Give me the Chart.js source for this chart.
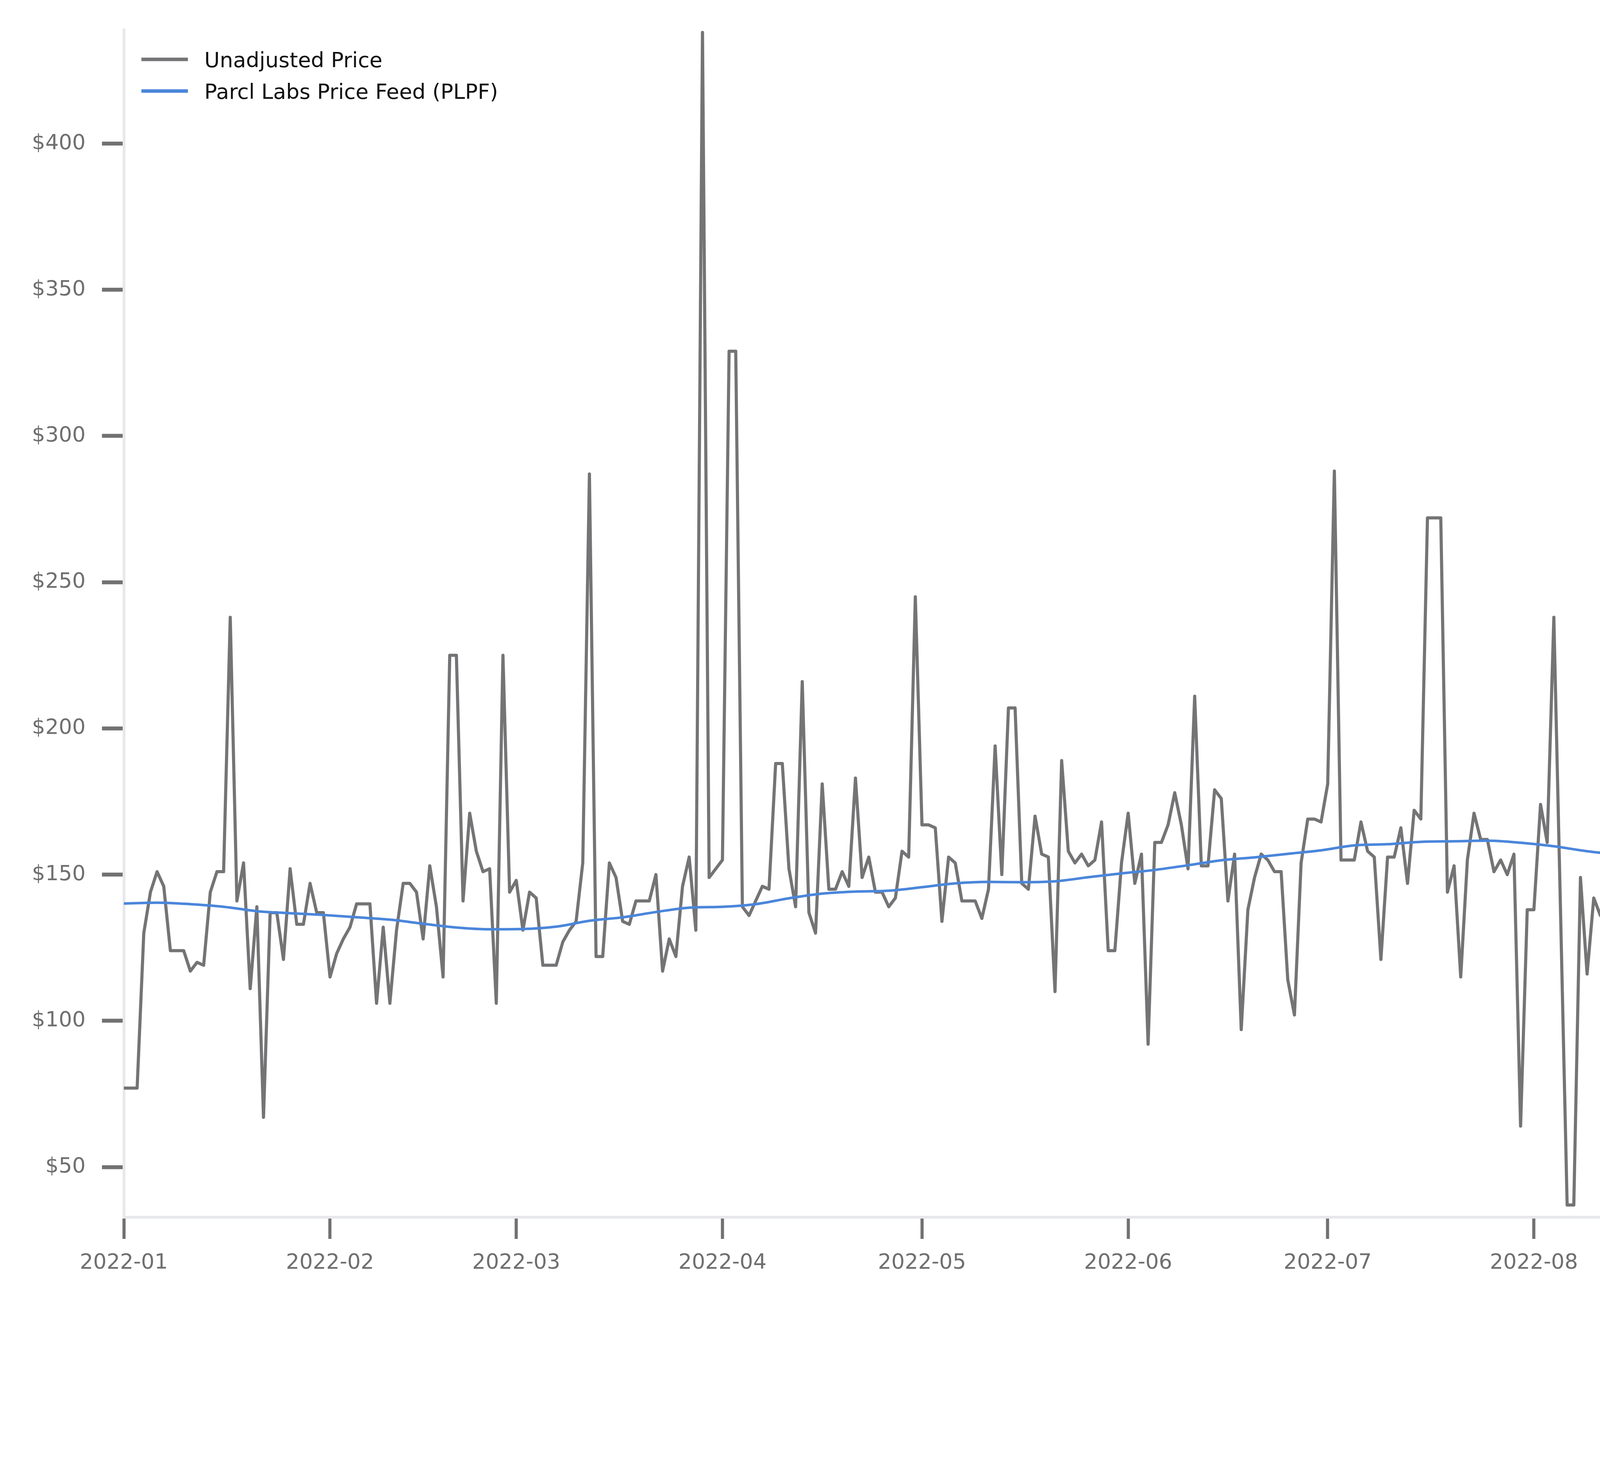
<!DOCTYPE html>
<html><head><meta charset="utf-8">
<script src="https://cdn.jsdelivr.net/npm/chart.js@4.4.1/dist/chart.umd.min.js"></script>
<style>html,body{margin:0;padding:0;background:#fff;overflow:hidden}canvas{display:block}</style>
</head><body>
<canvas id="c" width="6595" height="3783"></canvas>
<script>
// ---- data ----
const monthDays = [0,31,59,90,120,151,181,212,243,273,304,334];
const monthLabels = ['2022-01','2022-02','2022-03','2022-04','2022-05','2022-06','2022-07','2022-08','2022-09','2022-10','2022-11','2022-12'];
const yTickValues = [50,100,150,200,250,300,350,400];

// daily unadjusted price, 2022-01-01 .. 2022-12-31
const unadjustedPrice = [
 77,77,77,130,144,151,146,124,124,124,
 117,120,119,144,151,151,238,141,154,111,
 139,67,137,137,121,152,133,133,147,137,
 137,115,123,128,132,140,140,140,106,132,
 106,131,147,147,144,128,153,139,115,225,
 225,141,171,158,151,152,106,225,144,148,
 131,144,142,119,119,119,127,131,134,154,
 287,122,122,154,149,134,133,141,141,141,
 150,117,128,122,146,156,131,438,149,152,
 155,329,329,139,136,141,146,145,188,188,
 152,139,216,137,130,181,145,145,151,146,
 183,149,156,144,144,139,142,158,156,245,
 167,167,166,134,156,154,141,141,141,135,
 145,194,150,207,207,147,145,170,157,156,
 110,189,158,154,157,153,155,168,124,124,
 154,171,147,157,92,161,161,167,178,167,
 152,211,153,153,179,176,141,157,97,138,
 149,157,155,151,151,114,102,154,169,169,
 168,181,288,155,155,155,168,158,156,121,
 156,156,166,147,172,169,272,272,272,144,
 153,115,155,171,162,162,151,155,150,157,
 64,138,138,174,161,238,138,37,37,149,
 116,142,136,148,202,163,163,135,145,127,
 144,201,130,130,149,145,166,145,37,147,
 147,170,161,162,174,208,133,133,133,133,
 146,143,146,146,146,137,142,145,159,101,
 139,139,158,153,137,146,122,410,260,107,
 147,131,144,150,150,149,144,150,132,143,
 140,140,140,146,142,127,147,72,150,150,
 139,119,321,146,140,140,140,139,131,144,
 154,109,166,166,141,168,124,135,149,185,
 134,139,129,149,139,152,152,152,150,146,
 198,147,151,153,153,122,152,99,92,129,
 129,129,131,134,157,147,185,192,129,118,
 128,136,138,190,190,190,122,111,139,141,
 152,130,130,119,117,147,126,111,231,231,
 112,142,152,409,104
];

// Parcl Labs Price Feed, read every 5 days (day index of year)
const plpfDays = [0,5,10,15,20,25,30,35,40,45,50,55,60,65,70,75,80,85,90,95,100,105,110,115,120,125,130,135,140,145,150,155,160,165,170,175,180,185,190,195,200,205,210,215,220,225,230,235,240,245,250,255,260,265,270,275,280,285,290,295,300,305,310,315,320,325,330,335,340,345,350,355,360,364];
const plpfValues = [140.1,140.4,139.9,139.0,137.5,136.8,136.2,135.4,134.6,133.2,131.9,131.3,131.4,132.2,134.2,135.4,137.2,138.7,139.0,139.9,141.9,143.5,144.2,144.5,145.7,147.0,147.5,147.4,147.7,149.1,150.4,151.6,153.2,154.9,155.9,157.1,158.3,160.0,160.4,161.2,161.4,161.6,160.9,159.7,158.0,156.8,155.8,153.9,151.7,150.1,150.7,150.7,150.1,150.1,150.7,151.3,150.1,149.0,149.4,149.9,150.0,151.6,153.2,152.5,151.7,151.0,151.3,150.1,148.8,147.5,147.0,145.7,143.3,141.4];

const seriesLabels = ['Unadjusted Price','Parcl Labs Price Feed (PLPF)'];

// ---- plugins ----
const insideLegend = {
  id: 'insideLegend',
  afterDraw(chart) {
    const ctx = chart.ctx;
    const rows = [152, 233];
    chart.data.datasets.forEach((ds, i) => {
      const y = rows[i];
      ctx.save();
      ctx.strokeStyle = ds.borderColor;
      ctx.lineWidth = 9;
      ctx.lineCap = 'butt';
      ctx.beginPath(); ctx.moveTo(362, y); ctx.lineTo(481, y); ctx.stroke();
      ctx.fillStyle = '#111';
      ctx.font = '54px "DejaVu Sans"';
      ctx.textBaseline = 'alphabetic';
      ctx.textAlign = 'left';
      ctx.fillText(ds.label, 523, y + 20);
      ctx.restore();
    });
  }
};

function drawFit(ctx, text, font, x0, x1, base, color) {
  ctx.save();
  ctx.font = font;
  ctx.fillStyle = color;
  ctx.textBaseline = 'alphabetic';
  ctx.textAlign = 'left';
  const m = ctx.measureText(text);
  const ink = m.actualBoundingBoxLeft + m.actualBoundingBoxRight;
  const sx = (x1 - x0) / ink;
  ctx.translate(x0, base);
  ctx.scale(sx, 1);
  ctx.fillText(text, m.actualBoundingBoxLeft, 0);
  ctx.restore();
}

const logo = {
  id: 'logo',
  afterDraw(chart) {
    const ctx = chart.ctx;
    const blue = '#80a7e4';
    ctx.save();
    ctx.fillStyle = blue;
    ctx.fillRect(4647, 3399, 165, 56);
    ctx.fillRect(4647, 3399, 53, 224);
    ctx.fillRect(4812, 3455, 53, 168);
    ctx.fillRect(4757, 3568, 108, 55);
    ctx.restore();
    drawFit(ctx, 'parcl', 'bold 324px "Liberation Sans"', 4904, 5671, 3623, blue);
    drawFit(ctx, 'labs', '300 328px Lato', 5797, 6346, 3623, '#4d4d4d');
  }
};

const tickFont = { family: 'DejaVu Sans', size: 54 };
const tickColor = '#6f6f6f';

new Chart(document.getElementById('c'), {
  type: 'line',
  data: {
    datasets: [
      {
        label: seriesLabels[0],
        data: unadjustedPrice.map((v, i) => ({ x: i, y: v })),
        borderColor: '#747476',
        borderWidth: 8,
        borderJoinStyle: 'round',
        borderCapStyle: 'round',
        pointRadius: 0,
        tension: 0,
        fill: false,
        order: 2
      },
      {
        label: seriesLabels[1],
        data: plpfDays.map((d, i) => ({ x: d, y: plpfValues[i] })),
        borderColor: '#4a86db',
        borderWidth: 6.5,
        borderJoinStyle: 'round',
        pointRadius: 0,
        cubicInterpolationMode: 'monotone',
        fill: false,
        order: 1
      }
    ]
  },
  options: {
    responsive: false,
    animation: false,
    devicePixelRatio: 1,
    events: [],
    layout: { padding: { top: 76, right: 75, bottom: 0, left: 0 } },
    plugins: { legend: { display: false }, tooltip: { enabled: false }, title: { display: false } },
    scales: {
      x: {
        type: 'linear',
        min: 0,
        max: 364.3,
        afterBuildTicks: s => { s.ticks = monthDays.map(v => ({ value: v })); },
        afterFit: s => { s.height = 668; },
        ticks: {
          autoSkip: false, maxRotation: 0, minRotation: 0,
          padding: 30, color: tickColor, font: tickFont,
          callback: (v, i) => monthLabels[i]
        },
        grid: { display: true, drawOnChartArea: false, drawTicks: true, tickLength: 56, tickWidth: 8, tickColor: '#717171' },
        border: { display: true, color: '#e7e8eb', width: 7 }
      },
      y: {
        type: 'linear',
        min: 32.9,
        max: 438.95,
        afterBuildTicks: s => { s.ticks = yTickValues.map(v => ({ value: v })); },
        afterFit: s => { s.width = 317; },
        ticks: {
          padding: 42, color: tickColor, font: tickFont,
          callback: v => '$' + v
        },
        grid: { display: true, drawOnChartArea: false, drawTicks: true, tickLength: 56, tickWidth: 10, tickColor: '#717171' },
        border: { display: true, color: '#e7e8eb', width: 7 }
      }
    }
  },
  plugins: [insideLegend, logo]
});
</script>
</body></html>
